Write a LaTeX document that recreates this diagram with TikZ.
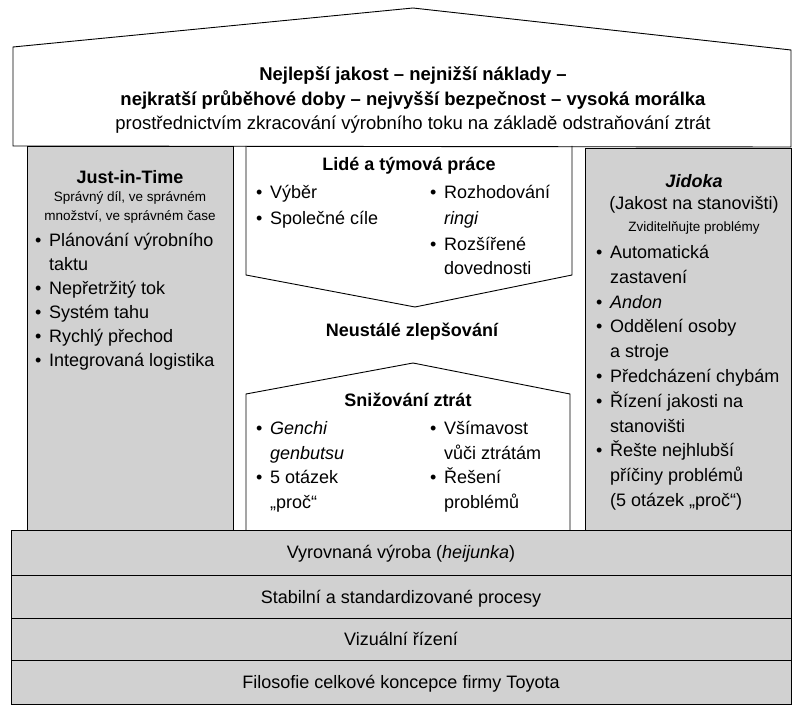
\documentclass[tikz,border=0pt]{standalone}
\usepackage{fontspec}
\setmainfont{Liberation Sans}
\usetikzlibrary{positioning}

\newcommand{\mainsize}{\fontsize{18}{21}\selectfont}
\newcommand{\roofsize}{\fontsize{18.5}{22}\selectfont}
\newcommand{\smallsize}{\fontsize{13.5}{16}\selectfont}
\newcommand{\bul}{\makebox[14pt][l]{•}}

\begin{document}
\begin{tikzpicture}[x=1pt,y=-1pt,
  every node/.style={inner sep=0pt},
  wall/.style={draw=black, line width=0.9pt},
  pillar/.style={wall, fill=black!18},
  txt/.style={font=\mainsize, anchor=base},
  item/.style={font=\mainsize, anchor=base west},
  head/.style={font=\mainsize\bfseries, anchor=base},
  note/.style={font=\smallsize, anchor=base}]
  \useasboundingbox (0,0) rectangle (793,706);

  % --- Roof ---
  \draw[wall, fill=white] (13,146) -- (13,47) -- (413,8) -- (791,50) -- (791,147) -- cycle;
  \node[head, font=\roofsize\bfseries] (roof1) at (413,81) {Nejlepší jakost – nejnižší náklady –};
  \node[head, font=\roofsize\bfseries] (roof2) at (413,106) {nejkratší průběhové doby – nejvyšší bezpečnost – vysoká morálka};
  \node[txt, font=\roofsize] (roof3) at (413,130) {prostřednictvím zkracování výrobního toku na základě odstraňování ztrát};

  % --- Left pillar: Just-in-Time ---
  \draw[pillar] (27,146) rectangle (233,530);
  \node[head] (jit) at (130,183) {Just-in-Time};
  \node[note] (jitsub1) at (130,202) {Správný díl, ve správném};
  \node[note] (jitsub2) at (130,220) {množství, ve správném čase};
  \node[item] (jit1) at (35,246) {\bul Plánování výrobního};
  \node[item] (jit1b) at (49,270) {taktu};
  \node[item] (jit2) at (35,294) {\bul Nepřetržitý tok};
  \node[item] (jit3) at (35,318) {\bul Systém tahu};
  \node[item] (jit4) at (35,342) {\bul Rychlý přechod};
  \node[item] (jit5) at (35,366) {\bul Integrovaná logistika};

  % --- Right pillar: Jidoka ---
  \draw[pillar] (585,148) rectangle (791,530);
  \node[head] (jid) at (694,187) {\textit{Jidoka}};
  \node[txt] (jidsub1) at (694,210) {(Jakost na stanovišti)};
  \node[note] (jidsub2) at (694,231) {Zviditelňujte problémy};
  \node[item] (jid1) at (596,258) {\bul Automatická};
  \node[item] (jid1b) at (610,283) {zastavení};
  \node[item] (jid2) at (596,308) {\bul \textit{Andon}};
  \node[item] (jid3) at (596,332) {\bul Oddělení osoby};
  \node[item] (jid3b) at (610,357) {a stroje};
  \node[item] (jid4) at (596,382) {\bul Předcházení chybám};
  \node[item] (jid5) at (596,407) {\bul Řízení jakosti na};
  \node[item] (jid5b) at (610,432) {stanovišti};
  \node[item] (jid6) at (596,456) {\bul Řešte nejhlubší};
  \node[item] (jid6b) at (610,481) {příčiny problémů};
  \node[item] (jid6c) at (610,506) {(5 otázek „proč“)};

  % --- People and teamwork (arrow down) ---
  \draw[wall] (246,146) -- (246,275) -- (415,307) -- (572,275) -- (572,146);
  \node[head] (team) at (409,171) {Lidé a týmová práce};
  \node[item] (team1) at (256,198) {\bul Výběr};
  \node[item] (team2) at (256,224) {\bul Společné cíle};
  \node[item] (team3) at (430,198) {\bul Rozhodování};
  \node[item] (team3b) at (444,224) {\textit{ringi}};
  \node[item] (team4) at (430,250) {\bul Rozšířené};
  \node[item] (team4b) at (444,274) {dovednosti};

  \node[head] (kaizen) at (412,336) {Neustálé zlepšování};

  % --- Waste reduction (house) ---
  \draw[wall] (246,530) -- (246,394) -- (413,363) -- (570,394) -- (570,530);
  \node[head] (waste) at (408,406) {Snižování ztrát};
  \node[item] (waste1) at (256,434) {\bul \textit{Genchi}};
  \node[item] (waste1b) at (270,459) {\textit{genbutsu}};
  \node[item] (waste2) at (256,483) {\bul 5 otázek};
  \node[item] (waste2b) at (270,508) {„proč“};
  \node[item] (waste3) at (430,434) {\bul Všímavost};
  \node[item] (waste3b) at (444,459) {vůči ztrátám};
  \node[item] (waste4) at (430,483) {\bul Řešení};
  \node[item] (waste4b) at (444,508) {problémů};

  % --- Foundation ---
  \draw[pillar] (11,530) rectangle (791,704);
  \draw[wall] (11,575) -- (791,575);
  \draw[wall] (11,618) -- (791,618);
  \draw[wall] (11,660) -- (791,660);
  \node[txt] (base1) at (401,558) {Vyrovnaná výroba (\textit{heijunka})};
  \node[txt] (base2) at (401,603) {Stabilní a standardizované procesy};
  \node[txt] (base3) at (401,645) {Vizuální řízení};
  \node[txt] (base4) at (401,688) {Filosofie celkové koncepce firmy Toyota};
\end{tikzpicture}
\end{document}
